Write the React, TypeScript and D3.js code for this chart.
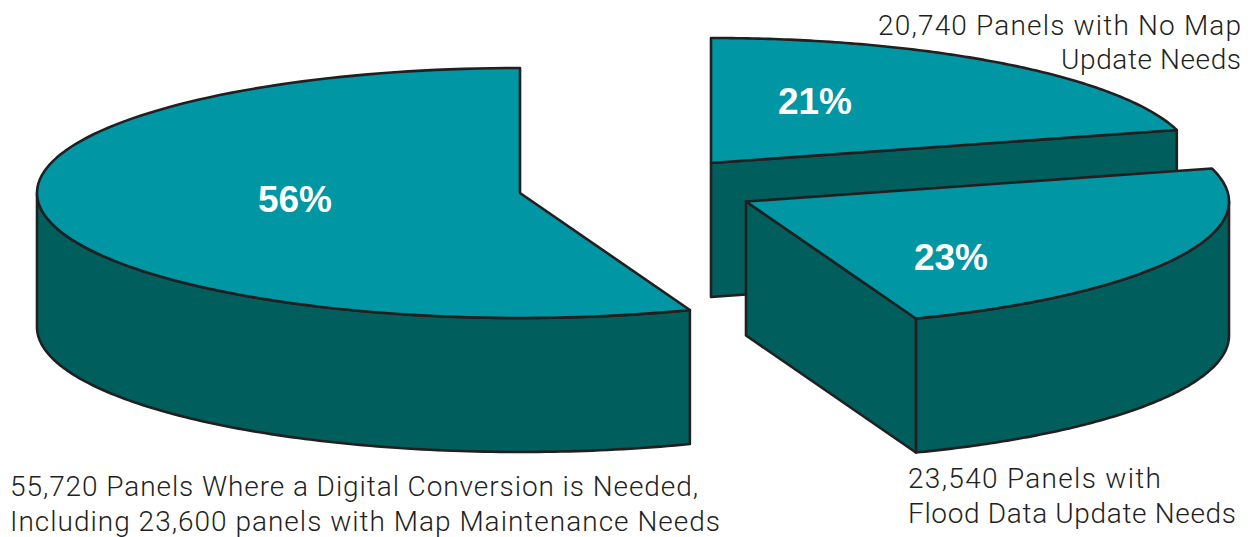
import React from "react";
import * as d3 from "d3";

// Panel counts, in pie order going clockwise from twelve o'clock
const sliceNames = ["noUpdate", "floodData", "digital"];
const panelCounts = [20740, 23540, 55720];
const percentLabels = ["21%", "23%", "56%"];

// Exploded centre of each slice's top face
const centreX = [711, 746, 520];
const centreY = [163, 201.5, 193];
// Where each percentage sits
const percentX = [815, 951, 295];
const percentY = [114, 270, 212];

const captionLines = [
  { text: "20,740 Panels with No Map", x: 1241, y: 35, anchor: "end", width: 363 },
  { text: "Update Needs", x: 1241, y: 69, anchor: "end", width: 180 },
  { text: "23,540 Panels with", x: 908, y: 488, anchor: "start", width: 253 },
  { text: "Flood Data Update Needs", x: 908, y: 523, anchor: "start", width: 328 },
  { text: "55,720 Panels Where a Digital Conversion is Needed,", x: 10, y: 496, anchor: "start", width: 688 },
  { text: "Including 23,600 panels with Map Maintenance Needs", x: 10, y: 531, anchor: "start", width: 710 },
];

const RX = 483;
const RY = 125;
const DEPTH = 134;
const TOP = "#0096a3";
const SIDE = "#005e5d";
const INK = "#231f20";
const STROKE = 2.6;

type Pt = [number, number];

const onRim = (cx: number, cy: number, a: number): Pt => [cx + RX * Math.sin(a), cy - RY * Math.cos(a)];

const rim = (cx: number, cy: number, a0: number, a1: number): Pt[] => {
  const steps = 120;
  return d3.range(steps + 1).map((i) => onRim(cx, cy, a0 + ((a1 - a0) * i) / steps));
};

const line = d3.line<Pt>();

export default function App() {
  const arcs = d3.pie<number>().sort(null)(panelCounts);

  const shapes = arcs.map((arc, i) => {
    const cx = centreX[i];
    const cy = centreY[i];
    const topFace = line([[cx, cy], ...rim(cx, cy, arc.startAngle, arc.endAngle)]) + "Z";

    // Rounded wall: only the stretch of rim facing the viewer (3 to 9 o'clock)
    const a0 = Math.max(arc.startAngle, Math.PI / 2);
    const a1 = Math.min(arc.endAngle, (3 * Math.PI) / 2);
    let wall: string | null = null;
    if (a1 > a0) {
      const upper = rim(cx, cy, a0, a1);
      const lower = upper.map(([x, y]) => [x, y + DEPTH] as Pt).reverse();
      wall = line([...upper, ...lower]) + "Z";
    }

    // Flat cut wall along the closing radius of the two smaller slices
    let cut: string | null = null;
    if (i < 2) {
      const e = onRim(cx, cy, arc.endAngle);
      cut = line([[cx, cy], e, [e[0], e[1] + DEPTH], [cx, cy + DEPTH]]) + "Z";
    }
    return { name: sliceNames[i], topFace, wall, cut };
  });

  const drawOrder = [2, 0, 1];

  return (
    <svg
      width={1252}
      height={537}
      viewBox="0 0 1252 537"
      style={{ position: "absolute", left: 0, top: 0, background: "#fff" }}
    >
      {drawOrder.map((i) => {
        const s = shapes[i];
        return (
          <g key={s.name} stroke={INK} strokeWidth={STROKE} strokeLinejoin="round">
            {s.wall && <path d={s.wall} fill={SIDE} />}
            {s.cut && <path d={s.cut} fill={SIDE} />}
            <path d={s.topFace} fill={TOP} />
          </g>
        );
      })}
      {percentLabels.map((t, i) => (
        <text
          key={t}
          x={percentX[i]}
          y={percentY[i]}
          textAnchor="middle"
          fill="#fff"
          fontFamily="'Liberation Sans', Arial, sans-serif"
          fontWeight={700}
          fontSize={37}
        >
          {t}
        </text>
      ))}
      {captionLines.map((c) => (
        <text
          key={c.text}
          x={c.x}
          y={c.y}
          textAnchor={c.anchor as "start" | "end"}
          fill={INK}
          fontFamily="Roboto, sans-serif"
          fontWeight={300}
          fontSize={28}
          textLength={c.width}
          lengthAdjust="spacing"
        >
          {c.text}
        </text>
      ))}
    </svg>
  );
}
